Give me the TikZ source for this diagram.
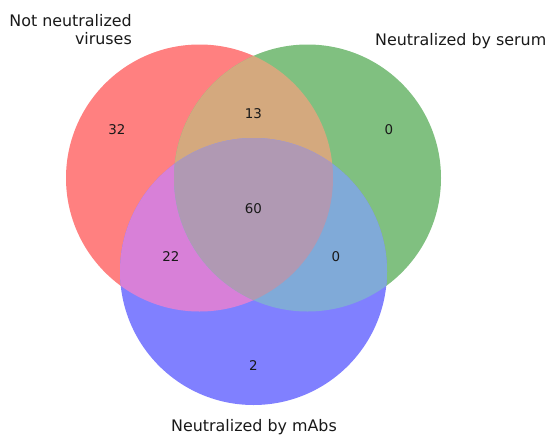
\documentclass[tikz,border=0pt]{standalone}
\usepackage{fontspec}
\setmainfont{DejaVu Sans}
\definecolor{rOnly}{HTML}{FF8080}
\definecolor{gOnly}{HTML}{80C080}
\definecolor{bOnly}{HTML}{8080FF}
\definecolor{rg}{HTML}{D4A97E}
\definecolor{rb}{HTML}{D880D8}
\definecolor{gb}{HTML}{80AAD8}
\definecolor{rgb}{HTML}{B099B3}
\tikzset{
  num/.style={font=\fontsize{13.4}{15}\selectfont, inner sep=0pt, text=black!90},
  setlabel/.style={font=\fontsize{15.9}{17.7}\selectfont, inner sep=0pt, text=black!90},
}
\begin{document}
\begin{tikzpicture}[x=1pt,y=-1pt]
\useasboundingbox (0,0) rectangle (549,434);
\coordinate (cR) at (199.5,178);
\coordinate (cG) at (307.5,178);
\coordinate (cB) at (253.5,271.5);
\def\rad{133.5pt}
% single regions
\fill[rOnly] (cR) circle[radius=\rad];
\fill[gOnly] (cG) circle[radius=\rad];
\fill[bOnly] (cB) circle[radius=\rad];
% pairwise
\begin{scope}\clip (cR) circle[radius=\rad]; \fill[rg] (cG) circle[radius=\rad];\end{scope}
\begin{scope}\clip (cR) circle[radius=\rad]; \fill[rb] (cB) circle[radius=\rad];\end{scope}
\begin{scope}\clip (cG) circle[radius=\rad]; \fill[gb] (cB) circle[radius=\rad];\end{scope}
% triple
\begin{scope}\clip (cR) circle[radius=\rad]; \clip (cG) circle[radius=\rad]; \fill[rgb] (cB) circle[radius=\rad];\end{scope}
% numbers
\node[num] (n100) at (117,130) {32};
\node[num] (n110) at (253.5,113.5) {13};
\node[num] (n010) at (389,130) {0};
\node[num] (n111) at (253.5,209) {60};
\node[num] (n101) at (171,257) {22};
\node[num] (n011) at (336,257) {0};
\node[num] (n001) at (253.5,366) {2};
% set labels
\node[setlabel, anchor=south east, align=right] (lR) at (132,45) {Not neutralized\\viruses};
\node[setlabel, anchor=base west] (lG) at (375,45) {Neutralized by serum};
\node[setlabel, anchor=base] (lB) at (254,431) {Neutralized by mAbs};
\end{tikzpicture}
\end{document}
